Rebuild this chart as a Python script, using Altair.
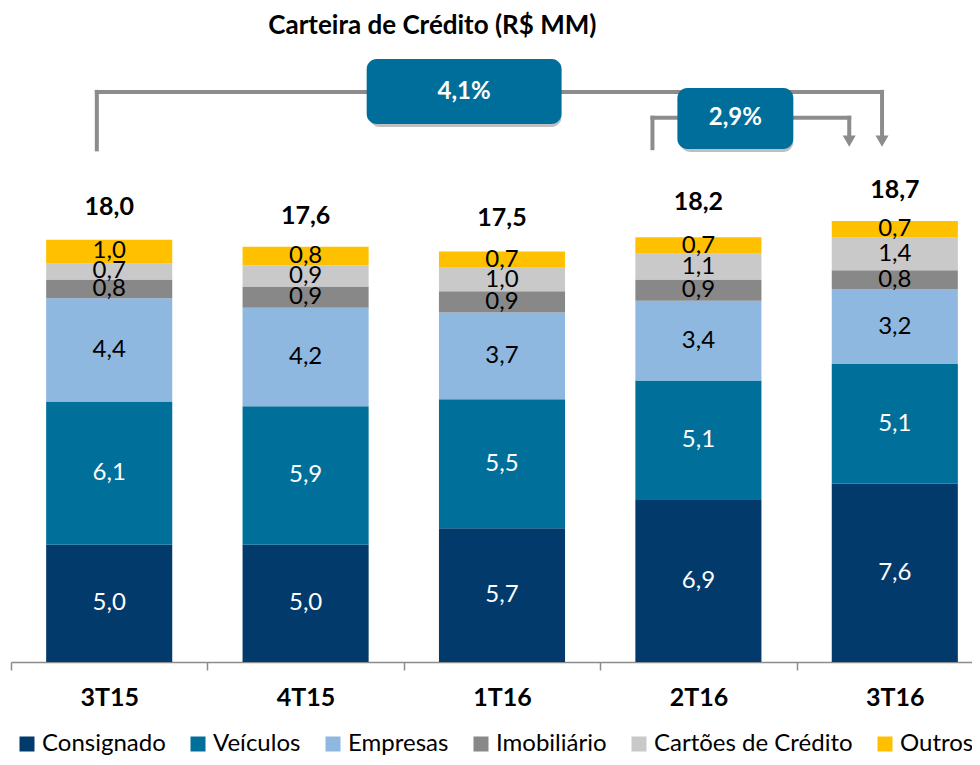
import json
import altair as alt
import pandas as pd

# ---------------- data ----------------
periods = ["3T15", "4T15", "1T16", "2T16", "3T16"]
series = ["Consignado", "Veículos", "Empresas", "Imobiliário", "Cartões de Crédito", "Outros"]
colors = ["#023a6b", "#00709b", "#8eb8e0", "#888888", "#c9c9c9", "#ffc000"]
label_colors = ["white", "white", "black", "black", "black", "black"]

consignado = [5.0, 5.0, 5.7, 6.9, 7.6]
veiculos = [6.1, 5.9, 5.5, 5.1, 5.1]
empresas = [4.4, 4.2, 3.7, 3.4, 3.2]
imobiliario = [0.8, 0.9, 0.9, 0.9, 0.8]
cartoes = [0.7, 0.9, 1.0, 1.1, 1.4]
outros = [1.0, 0.8, 0.7, 0.7, 0.7]
totals = [18.0, 17.6, 17.5, 18.2, 18.7]

growth_labels = ["4,1%", "2,9%"]

# annotation layout (x in category-index units, y in R$ MM units)
bracket_lines = [  # x, y, x2, y2
    (0.437, 21.85, 0.437, 24.3),
    (0.437, 24.3, 4.435, 24.3),
    (4.435, 24.3, 4.435, 22.5),
    (3.266, 21.9, 3.266, 23.2),
    (3.266, 23.2, 4.268, 23.2),
    (4.268, 23.2, 4.268, 22.5),
]
arrow_tips = [(4.435, 22.2), (4.268, 22.2)]
boxes = [  # x, x2, y, y2
    (1.811, 2.803, 22.93, 25.70),
    (3.393, 3.983, 21.87, 24.47),
]

FONT = "Lato"
BAR_HALF = 0.321  # half bar width, in category units

# ---------------- tables ----------------
values = [consignado, veiculos, empresas, imobiliario, cartoes, outros]
rows = []
for pi, p in enumerate(periods):
    lo = 0.0
    for si, s in enumerate(series):
        v = values[si][pi]
        hi = lo + v
        rows.append({
            "period": p, "series": s, "order": si, "value": v,
            "x": pi + 0.5 - BAR_HALF, "x2": pi + 0.5 + BAR_HALF, "xc": pi + 0.5,
            "lo": lo, "hi": hi, "mid": (lo + hi) / 2,
            "label": f"{v:.1f}".replace(".", ","),
            "tcolor": label_colors[si],
        })
        lo = hi
df = pd.DataFrame(rows)

tot_df = pd.DataFrame({
    "period": periods,
    "xc": [i + 0.5 for i in range(len(periods))],
    "total": totals,
    "label": [f"{t:.1f}".replace(".", ",") for t in totals],
})

line_df = pd.DataFrame(bracket_lines, columns=["x", "y", "x2", "y2"])
tip_df = pd.DataFrame(arrow_tips, columns=["x", "y"])
box_df = pd.DataFrame(boxes, columns=["x", "x2", "y", "y2"])
box_df["label"] = growth_labels
box_df["cx"] = (box_df["x"] + box_df["x2"]) / 2
box_df["cy"] = (box_df["y"] + box_df["y2"]) / 2

# ---------------- scales ----------------
W = 961
STEP = 196.4
xq = alt.Scale(domain=[0, W / STEP], nice=False, zero=False)
yscale = alt.Scale(domain=[0, 26], nice=False, zero=True)

tick_vals = [i * 0.5 for i in range(2 * len(periods))]
label_expr = (
    "datum.value % 1 == 0 ? '' : " + json.dumps(periods) + "[floor(datum.value)]"
)

x_axis = alt.Axis(
    title=None, values=tick_vals, labelExpr=label_expr,
    labelFont=FONT, labelFontSize=25, labelFontWeight="bold",
    labelColor="black", labelFlush=False, labelOverlap=False, labelBound=False,
    domainColor="#8c8c8c", domainWidth=1.5,
    tickColor="#8c8c8c", tickWidth=1.5, tickSize=8,
    tickOpacity={"condition": {"test": "datum.value % 1 != 0", "value": 0}, "value": 1},
    grid=False, labelPadding=15, labelAngle=0,
)

def xq_enc(field, axis=None):
    return alt.X(f"{field}:Q", scale=xq, axis=axis, title=None)

bars = alt.Chart(df).mark_bar().encode(
    x=xq_enc("x", x_axis),
    x2="x2:Q",
    y=alt.Y("lo:Q", scale=yscale, axis=None),
    y2="hi:Q",
    color=alt.Color(
        "series:N",
        scale=alt.Scale(domain=series, range=colors),
        sort=series,
        legend=alt.Legend(
            title=None, orient="none", legendX=4, legendY=680,
            direction="horizontal", symbolType="square", symbolSize=225,
            symbolStrokeWidth=0, symbolOpacity=1, labelFont=FONT,
            labelFontSize=24, labelColor="black", labelOffset=3,
            columnPadding=20, labelLimit=400,
        ),
    ),
)

seg_text = alt.Chart(df).mark_text(font=FONT, fontSize=24, baseline="middle").encode(
    x=xq_enc("xc"),
    y=alt.Y("mid:Q", scale=yscale),
    text="label:N",
    color=alt.Color("tcolor:N", scale=None),
)

tot_text = alt.Chart(tot_df).mark_text(
    font=FONT, fontSize=25, fontWeight="bold", baseline="middle", dy=-33, color="black"
).encode(
    x=xq_enc("xc"),
    y=alt.Y("total:Q", scale=yscale),
    text="label:N",
)

lines = alt.Chart(line_df).mark_rule(color="#8c8c8c", strokeWidth=4, strokeCap="square").encode(
    x=xq_enc("x"),
    x2="x2:Q",
    y=alt.Y("y:Q", scale=yscale),
    y2="y2:Q",
)

tips = alt.Chart(tip_df).mark_point(
    shape="triangle-down", filled=True, size=170, color="#8c8c8c", opacity=1
).encode(
    x=xq_enc("x"),
    y=alt.Y("y:Q", scale=yscale),
)

shadow = alt.Chart(box_df).mark_rect(
    cornerRadius=10, color="#000000", opacity=0.25, xOffset=3, yOffset=3
).encode(
    x=xq_enc("x"),
    x2="x2:Q",
    y=alt.Y("y:Q", scale=yscale),
    y2="y2:Q",
)

box = alt.Chart(box_df).mark_rect(cornerRadius=10, color="#006e9a").encode(
    x=xq_enc("x"),
    x2="x2:Q",
    y=alt.Y("y:Q", scale=yscale),
    y2="y2:Q",
)

box_text = alt.Chart(box_df).mark_text(
    font=FONT, fontSize=24, fontWeight="bold", color="white", baseline="middle"
).encode(
    x=xq_enc("cx"),
    y=alt.Y("cy:Q", scale=yscale),
    text="label:N",
)

chart = alt.layer(
    bars, seg_text, tot_text, lines, tips, shadow, box, box_text
).resolve_scale(
    x="independent", color="independent"
).properties(
    width=W,
    height=610,
    autosize="none",
    padding={"left": 3, "top": 44, "right": 0, "bottom": 95},
    title=alt.TitleParams(
        "Carteira de Crédito (R$ MM)", anchor="start", dx=258, offset=13,
        font=FONT, fontSize=26, fontWeight="bold", color="black",
    ),
).configure(background="white").configure_view(stroke=None)

chart.save("out.html", embed_options={"renderer": "svg", "actions": False})
